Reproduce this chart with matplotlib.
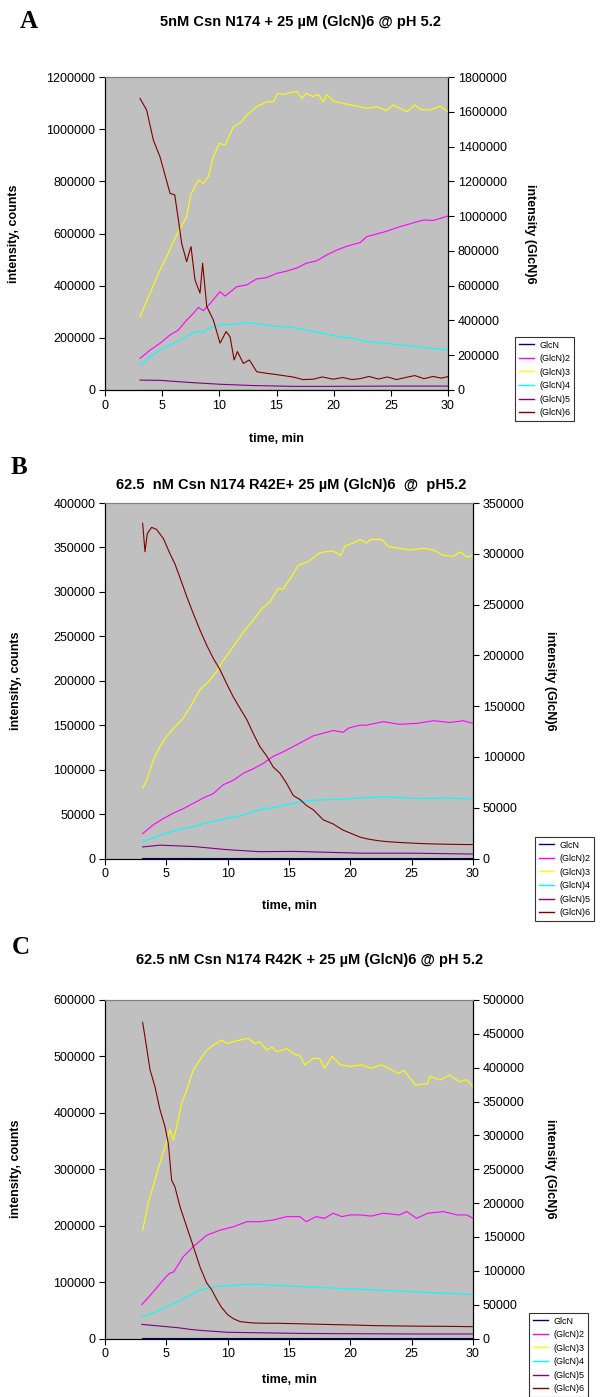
import matplotlib.pyplot as plt
from matplotlib.lines import Line2D
from matplotlib.ticker import MultipleLocator

plt.rcParams['font.family'] = ['Liberation Sans', 'DejaVu Sans']

names = ['GlcN', '(GlcN)2', '(GlcN)3', '(GlcN)4', '(GlcN)5', '(GlcN)6']
colors = ['#000080', '#FF00FF', '#FFFF00', '#00FFFF', '#800080', '#800000']

# ---------------- Panel A (values in counts; (GlcN)6 on right axis) ----------------
a_glcn_t = [3, 10, 20, 30]
a_glcn = [1500, 1500, 1500, 1500]
a_dp2_t = [3.06, 3.94, 4.81, 5.69, 6.42, 7.14, 7.73, 8.17, 8.6, 9.2, 10.06, 10.5, 11.52, 12.4,
           13.27, 14.15, 15.0, 15.9, 16.8, 17.6, 18.5, 19.4, 20.3, 21.2, 22.3, 22.9, 24.5, 25.8,
           27.3, 27.9, 28.7, 30.0]
a_dp2 = [121e3, 153e3, 179e3, 211e3, 230e3, 268e3, 294e3, 317e3, 304e3, 332e3, 377e3, 360e3,
         396e3, 403e3, 426e3, 431e3, 447e3, 456e3, 468e3, 486e3, 495e3, 518e3, 537e3, 552e3,
         565e3, 588e3, 607e3, 626e3, 645e3, 652e3, 650e3, 667e3]
a_dp3_t = [3.06, 3.94, 4.81, 5.4, 5.98, 6.42, 7.14, 7.49, 8.17, 8.6, 9.04, 9.48, 10.0, 10.5,
           11.23, 11.96, 12.4, 13.27, 14.15, 14.73, 15.08, 15.6, 16.2, 16.8, 17.2, 17.6, 18.2,
           18.66, 19.1, 19.4, 19.97, 20.8, 21.4, 22.3, 22.9, 23.8, 24.6, 25.2, 25.8, 26.4, 27.1,
           27.6, 28.4, 29.3, 30.0]
a_dp3 = [281e3, 371e3, 460e3, 511e3, 569e3, 607e3, 664e3, 748e3, 805e3, 792e3, 818e3, 894e3,
         946e3, 939e3, 1009e3, 1029e3, 1054e3, 1086e3, 1105e3, 1105e3, 1137e3, 1133e3, 1140e3,
         1145e3, 1118e3, 1137e3, 1125e3, 1133e3, 1105e3, 1133e3, 1108e3, 1099e3, 1094e3, 1086e3,
         1080e3, 1086e3, 1071e3, 1093e3, 1080e3, 1067e3, 1093e3, 1076e3, 1073e3, 1088e3, 1067e3]
a_dp4_t = [3.06, 3.94, 4.81, 5.98, 6.85, 7.3, 8.0, 8.6, 9.04, 10.06, 11.23, 12.4, 13.56, 14.73,
           16.2, 17.6, 19.1, 20.3, 21.4, 22.9, 24.3, 25.8, 27.3, 28.7, 30.0]
a_dp4 = [96e3, 128e3, 153e3, 179e3, 198e3, 211e3, 224e3, 220e3, 236e3, 249e3, 252e3, 258e3,
         252e3, 245e3, 241e3, 230e3, 217e3, 206e3, 200e3, 186e3, 180e3, 173e3, 166e3, 160e3,
         153e3]
a_dp5_t = [3.06, 4.8, 7.73, 10.06, 13.0, 16.5, 20.0, 25.0, 30.0]
a_dp5 = [38e3, 37e3, 28e3, 22e3, 17e3, 14e3, 14e3, 15e3, 15e3]
a_dp6_t = [3.06, 3.64, 4.23, 4.81, 5.25, 5.69, 6.1, 6.42, 6.7, 7.14, 7.52, 7.87, 8.31, 8.54,
           8.9, 9.48, 10.06, 10.59, 10.94, 11.29, 11.58, 12.1, 12.63, 13.27, 14.15, 15.17, 16.5,
           17.3, 18.2, 19.0, 19.97, 20.8, 21.6, 22.3, 23.1, 23.9, 24.7, 25.5, 26.3, 27.1, 27.9,
           28.7, 29.4, 30.0]
a_dp6 = [1677e3, 1610e3, 1437e3, 1341e3, 1236e3, 1131e3, 1122e3, 978e3, 845e3, 738e3, 825e3,
         633e3, 557e3, 729e3, 480e3, 402e3, 269e3, 336e3, 306e3, 173e3, 221e3, 153e3, 173e3,
         105e3, 96e3, 87e3, 74e3, 60e3, 62e3, 75e3, 62e3, 72e3, 60e3, 65e3, 78e3, 63e3, 75e3,
         60e3, 72e3, 83e3, 65e3, 78e3, 68e3, 77e3]

# ---------------- Panel B ----------------
b_glcn_t = [3, 10, 20, 30]
b_glcn = [500, 500, 500, 500]
b_dp2_t = [3.07, 3.95, 4.76, 5.57, 6.38, 7.2, 8.0, 8.83, 9.64, 10.46, 11.28, 12.09, 12.9, 13.72,
           14.53, 15.35, 16.17, 16.98, 17.8, 18.6, 19.4, 19.9, 20.8, 21.3, 22.7, 24.0, 25.4,
           26.8, 28.1, 29.2, 30.0]
b_dp2 = [28e3, 38e3, 45e3, 51e3, 56e3, 62e3, 68e3, 73e3, 83e3, 88e3, 96e3, 101e3, 107e3, 115e3,
         120e3, 126e3, 132e3, 138e3, 141e3, 144e3, 142e3, 147e3, 150e3, 150e3, 154e3, 151e3,
         152e3, 155e3, 153e3, 155e3, 152e3]
b_dp3_t = [3.07, 3.4, 3.95, 4.48, 5.0, 5.7, 6.38, 7.06, 7.74, 8.42, 9.1, 9.64, 10.19, 10.73,
           11.41, 12.09, 12.77, 13.45, 14.13, 14.5, 15.1, 15.76, 16.57, 17.39, 17.9, 18.6, 19.2,
           19.6, 20.24, 20.8, 21.3, 21.7, 22.55, 23.1, 24.0, 24.9, 26.0, 26.8, 27.6, 28.4, 29.0,
           29.5, 30.0]
b_dp3 = [79e3, 88e3, 111e3, 126e3, 137e3, 148e3, 158e3, 173e3, 190e3, 199e3, 210e3, 223e3,
         233e3, 244e3, 257e3, 268e3, 281e3, 289e3, 304e3, 303e3, 315e3, 330e3, 334e3, 343e3,
         345e3, 346e3, 341e3, 352e3, 355e3, 359e3, 355e3, 359e3, 359e3, 351e3, 349e3, 347e3,
         349e3, 347e3, 341e3, 340e3, 345e3, 339e3, 341e3]
b_dp4_t = [3.07, 4.48, 5.84, 7.2, 8.56, 9.92, 11.28, 12.63, 14.0, 15.35, 15.9, 17.5, 19.2, 20.8,
           22.7, 25.4, 28.0, 30.0]
b_dp4 = [19e3, 26e3, 32e3, 36e3, 41e3, 45e3, 49e3, 55e3, 58e3, 62e3, 64e3, 66e3, 66.5e3, 68e3,
         69.5e3, 67.5e3, 68e3, 67e3]
b_dp5_t = [3.07, 4.48, 7.2, 9.9, 12.6, 15.4, 20.8, 25.0, 30.0]
b_dp5 = [13e3, 15e3, 13.5e3, 10e3, 7.7e3, 8e3, 6e3, 6e3, 5e3]
b_dp6_t = [3.07, 3.26, 3.45, 3.8, 4.2, 4.76, 5.3, 5.7, 6.1, 6.66, 7.2, 7.74, 8.29, 8.83, 9.37,
           9.92, 10.46, 11.0, 11.55, 12.09, 12.63, 13.18, 13.72, 14.26, 14.8, 15.35, 15.9,
           16.44, 16.98, 17.8, 18.6, 19.4, 20.2, 20.8, 21.5, 22.3, 23.0, 24.0, 25.4, 26.5, 28.1,
           29.0, 30.0]
b_dp6 = [330e3, 302e3, 320e3, 326e3, 324e3, 315e3, 300e3, 290e3, 277e3, 258e3, 241e3, 225e3,
         210e3, 197e3, 186e3, 172e3, 159e3, 148e3, 137e3, 123e3, 110e3, 101e3, 90e3, 84e3,
         74e3, 62e3, 58e3, 52e3, 48e3, 38e3, 34e3, 28e3, 24e3, 21e3, 19e3, 17.5e3, 16.6e3,
         15.8e3, 14.9e3, 14.4e3, 14e3, 13.8e3, 13.7e3]

# ---------------- Panel C ----------------
c_glcn_t = [3, 10, 20, 30]
c_glcn = [800, 800, 800, 800]
c_dp2_t = [3.0, 3.5, 4.07, 4.6, 5.0, 5.3, 5.6, 6.38, 7.2, 8.29, 9.37, 10.46, 11.55, 12.6,
           13.72, 14.8, 15.9, 16.4, 17.2, 17.9, 18.6, 19.3, 20.0, 20.8, 21.7, 22.7, 24.0, 24.6,
           25.4, 26.3, 27.6, 28.7, 29.5, 30.0]
c_dp2 = [60e3, 72e3, 86e3, 100e3, 110e3, 116e3, 118e3, 145e3, 163e3, 183e3, 192e3, 198e3,
         207e3, 207e3, 210e3, 216e3, 216e3, 207e3, 216e3, 213e3, 222e3, 216e3, 219e3, 219e3,
         217e3, 222e3, 219e3, 225e3, 213e3, 222e3, 225e3, 219e3, 219e3, 213e3]
c_dp3_t = [3.07, 3.53, 4.07, 4.48, 4.89, 5.3, 5.57, 5.84, 6.25, 6.66, 7.2, 7.74, 8.29, 8.83,
           9.51, 9.92, 10.46, 11.0, 11.68, 12.2, 12.63, 13.18, 13.6, 14.0, 14.8, 15.35, 15.9,
           16.3, 16.98, 17.5, 17.9, 18.5, 19.2, 20.0, 20.9, 21.7, 22.5, 23.1, 23.9, 24.4, 25.3,
           26.3, 26.5, 27.3, 28.1, 28.9, 29.5, 30.0]
c_dp3 = [192e3, 240e3, 281e3, 311e3, 340e3, 370e3, 352e3, 375e3, 417e3, 440e3, 476e3, 494e3,
         511e3, 520e3, 529e3, 523e3, 526e3, 529e3, 532e3, 523e3, 526e3, 511e3, 517e3, 508e3,
         514e3, 505e3, 501e3, 485e3, 497e3, 496e3, 479e3, 500e3, 485e3, 482e3, 485e3, 479e3,
         485e3, 479e3, 470e3, 475e3, 449e3, 452e3, 465e3, 458e3, 467e3, 455e3, 459e3, 446e3]
c_dp4_t = [3.0, 4.0, 5.0, 6.0, 7.0, 7.74, 8.5, 9.5, 10.5, 11.5, 12.6, 14.0, 16.0, 18.0, 20.0,
           22.0, 24.0, 26.0, 28.0, 30.0]
c_dp4 = [38e3, 46e3, 56e3, 66e3, 77e3, 86e3, 90e3, 93e3, 94e3, 96e3, 96e3, 94e3, 92e3, 90e3,
         88e3, 86e3, 84e3, 82e3, 80e3, 78e3]
c_dp5_t = [3.0, 4.0, 5.0, 6.0, 7.0, 8.0, 10.0, 13.0, 16.0, 20.0, 25.0, 30.0]
c_dp5 = [25e3, 23e3, 21e3, 19e3, 16e3, 14e3, 11e3, 10e3, 9e3, 8.5e3, 8e3, 8e3]
c_dp6_t = [3.07, 3.34, 3.67, 4.07, 4.48, 4.89, 5.16, 5.43, 5.7, 6.11, 6.66, 7.2, 7.74, 8.29,
           8.7, 9.1, 9.5, 10.0, 10.5, 11.0, 12.0, 13.0, 14.0, 16.0, 18.0, 20.0, 22.0, 25.0,
           28.0, 30.0]
c_dp6 = [467e3, 436e3, 397e3, 372e3, 338e3, 313e3, 288e3, 234e3, 224e3, 195e3, 165e3, 136e3,
         106e3, 82e3, 72e3, 58e3, 46e3, 35e3, 29e3, 25e3, 23e3, 22.5e3, 22.5e3, 21.7e3, 20.8e3,
         20e3, 19e3, 18.3e3, 17.9e3, 17.5e3]

panels = [
    dict(letter='A', title='5nM Csn N174 + 25 \u00b5M (GlcN)6 @ pH 5.2',
         rect=[105 / 600, 1 - 390 / 1397, 343 / 600, 313 / 1397],
         ymax=1200000, ystep=200000, y2max=1800000, y2step=200000,
         data=[(a_glcn_t, a_glcn), (a_dp2_t, a_dp2), (a_dp3_t, a_dp3), (a_dp4_t, a_dp4),
               (a_dp5_t, a_dp5), (a_dp6_t, a_dp6)],
         title_xy=(300, 22), letter_xy=(29, 22), leg=(515, 337),
         ylab_x=-0.248, y2lab_x=1.24, xlab_y=-0.137),
    dict(letter='B', title='62.5  nM Csn N174 R42E+ 25 \u00b5M (GlcN)6  @  pH5.2',
         rect=[105 / 600, 1 - 858.5 / 1397, 368 / 600, 355.5 / 1397],
         ymax=400000, ystep=50000, y2max=350000, y2step=50000,
         data=[(b_glcn_t, b_glcn), (b_dp2_t, b_dp2), (b_dp3_t, b_dp3), (b_dp4_t, b_dp4),
               (b_dp5_t, b_dp5), (b_dp6_t, b_dp6)],
         title_xy=(291, 485), letter_xy=(19, 468), leg=(535, 837),
         ylab_x=-0.226, y2lab_x=1.21, xlab_y=-0.118),
    dict(letter='C', title='62.5 nM Csn N174 R42K + 25 \u00b5M (GlcN)6 @ pH 5.2',
         rect=[105 / 600, 1 - 1338.5 / 1397, 368 / 600, 338.5 / 1397],
         ymax=600000, ystep=100000, y2max=500000, y2step=50000,
         data=[(c_glcn_t, c_glcn), (c_dp2_t, c_dp2), (c_dp3_t, c_dp3), (c_dp4_t, c_dp4),
               (c_dp5_t, c_dp5), (c_dp6_t, c_dp6)],
         title_xy=(310, 960), letter_xy=(21, 948), leg=(529, 1313),
         ylab_x=-0.226, y2lab_x=1.21, xlab_y=-0.105),
]

W, H = 600, 1397
fig = plt.figure(figsize=(6, 13.97), dpi=100)

for p in panels:
    ax = fig.add_axes(p['rect'])
    ax2 = ax.twinx()
    ax.set_facecolor('#C0C0C0')

    for i, (t, v) in enumerate(p['data']):
        target = ax2 if i == 5 else ax
        target.plot(t, v, color=colors[i], lw=0.8)

    ax.set_xlim(0, 30)
    ax.xaxis.set_major_locator(MultipleLocator(5))
    ax.set_ylim(0, p['ymax'])
    ax.yaxis.set_major_locator(MultipleLocator(p['ystep']))
    ax2.set_ylim(0, p['y2max'])
    ax2.yaxis.set_major_locator(MultipleLocator(p['y2step']))
    for a in (ax, ax2):
        a.ticklabel_format(axis='y', style='plain', useOffset=False)
        a.tick_params(direction='out', length=4, width=0.8, labelsize=9, pad=3)
        a.spines['top'].set_color('#808080')
        a.spines['top'].set_linewidth(0.8)
        for s in ('left', 'right', 'bottom'):
            a.spines[s].set_linewidth(0.8)

    ax.set_xlabel('time, min', fontsize=9, fontweight='bold')
    ax.xaxis.set_label_coords(0.5, p['xlab_y'])
    ax.set_ylabel('intensity, counts', fontsize=9, fontweight='bold')
    ax.yaxis.set_label_coords(p['ylab_x'], 0.5)
    ax2.set_ylabel('intensity (GlcN)6', fontsize=9, fontweight='bold', rotation=270,
                   va='center')
    ax2.yaxis.set_label_coords(p['y2lab_x'], 0.5)

    fig.text(p['title_xy'][0] / W, 1 - p['title_xy'][1] / H, p['title'],
             ha='center', va='center', fontsize=10.5, fontweight='bold')
    fig.text(p['letter_xy'][0] / W, 1 - p['letter_xy'][1] / H, p['letter'],
             ha='center', va='center', fontsize=18, fontweight='bold',
             family=['Liberation Serif', 'DejaVu Serif'])

    handles = [Line2D([], [], color=c, lw=1.0) for c in colors]
    leg = fig.legend(handles, names, loc='upper left',
                     bbox_to_anchor=(p['leg'][0] / W, 1 - p['leg'][1] / H),
                     fontsize=6.5, frameon=True, fancybox=False, edgecolor='black',
                     handlelength=1.7, handletextpad=0.6, labelspacing=0.5,
                     borderpad=0.4, borderaxespad=0)
    leg.get_frame().set_linewidth(0.8)

fig.savefig('out.png', dpi=100)
